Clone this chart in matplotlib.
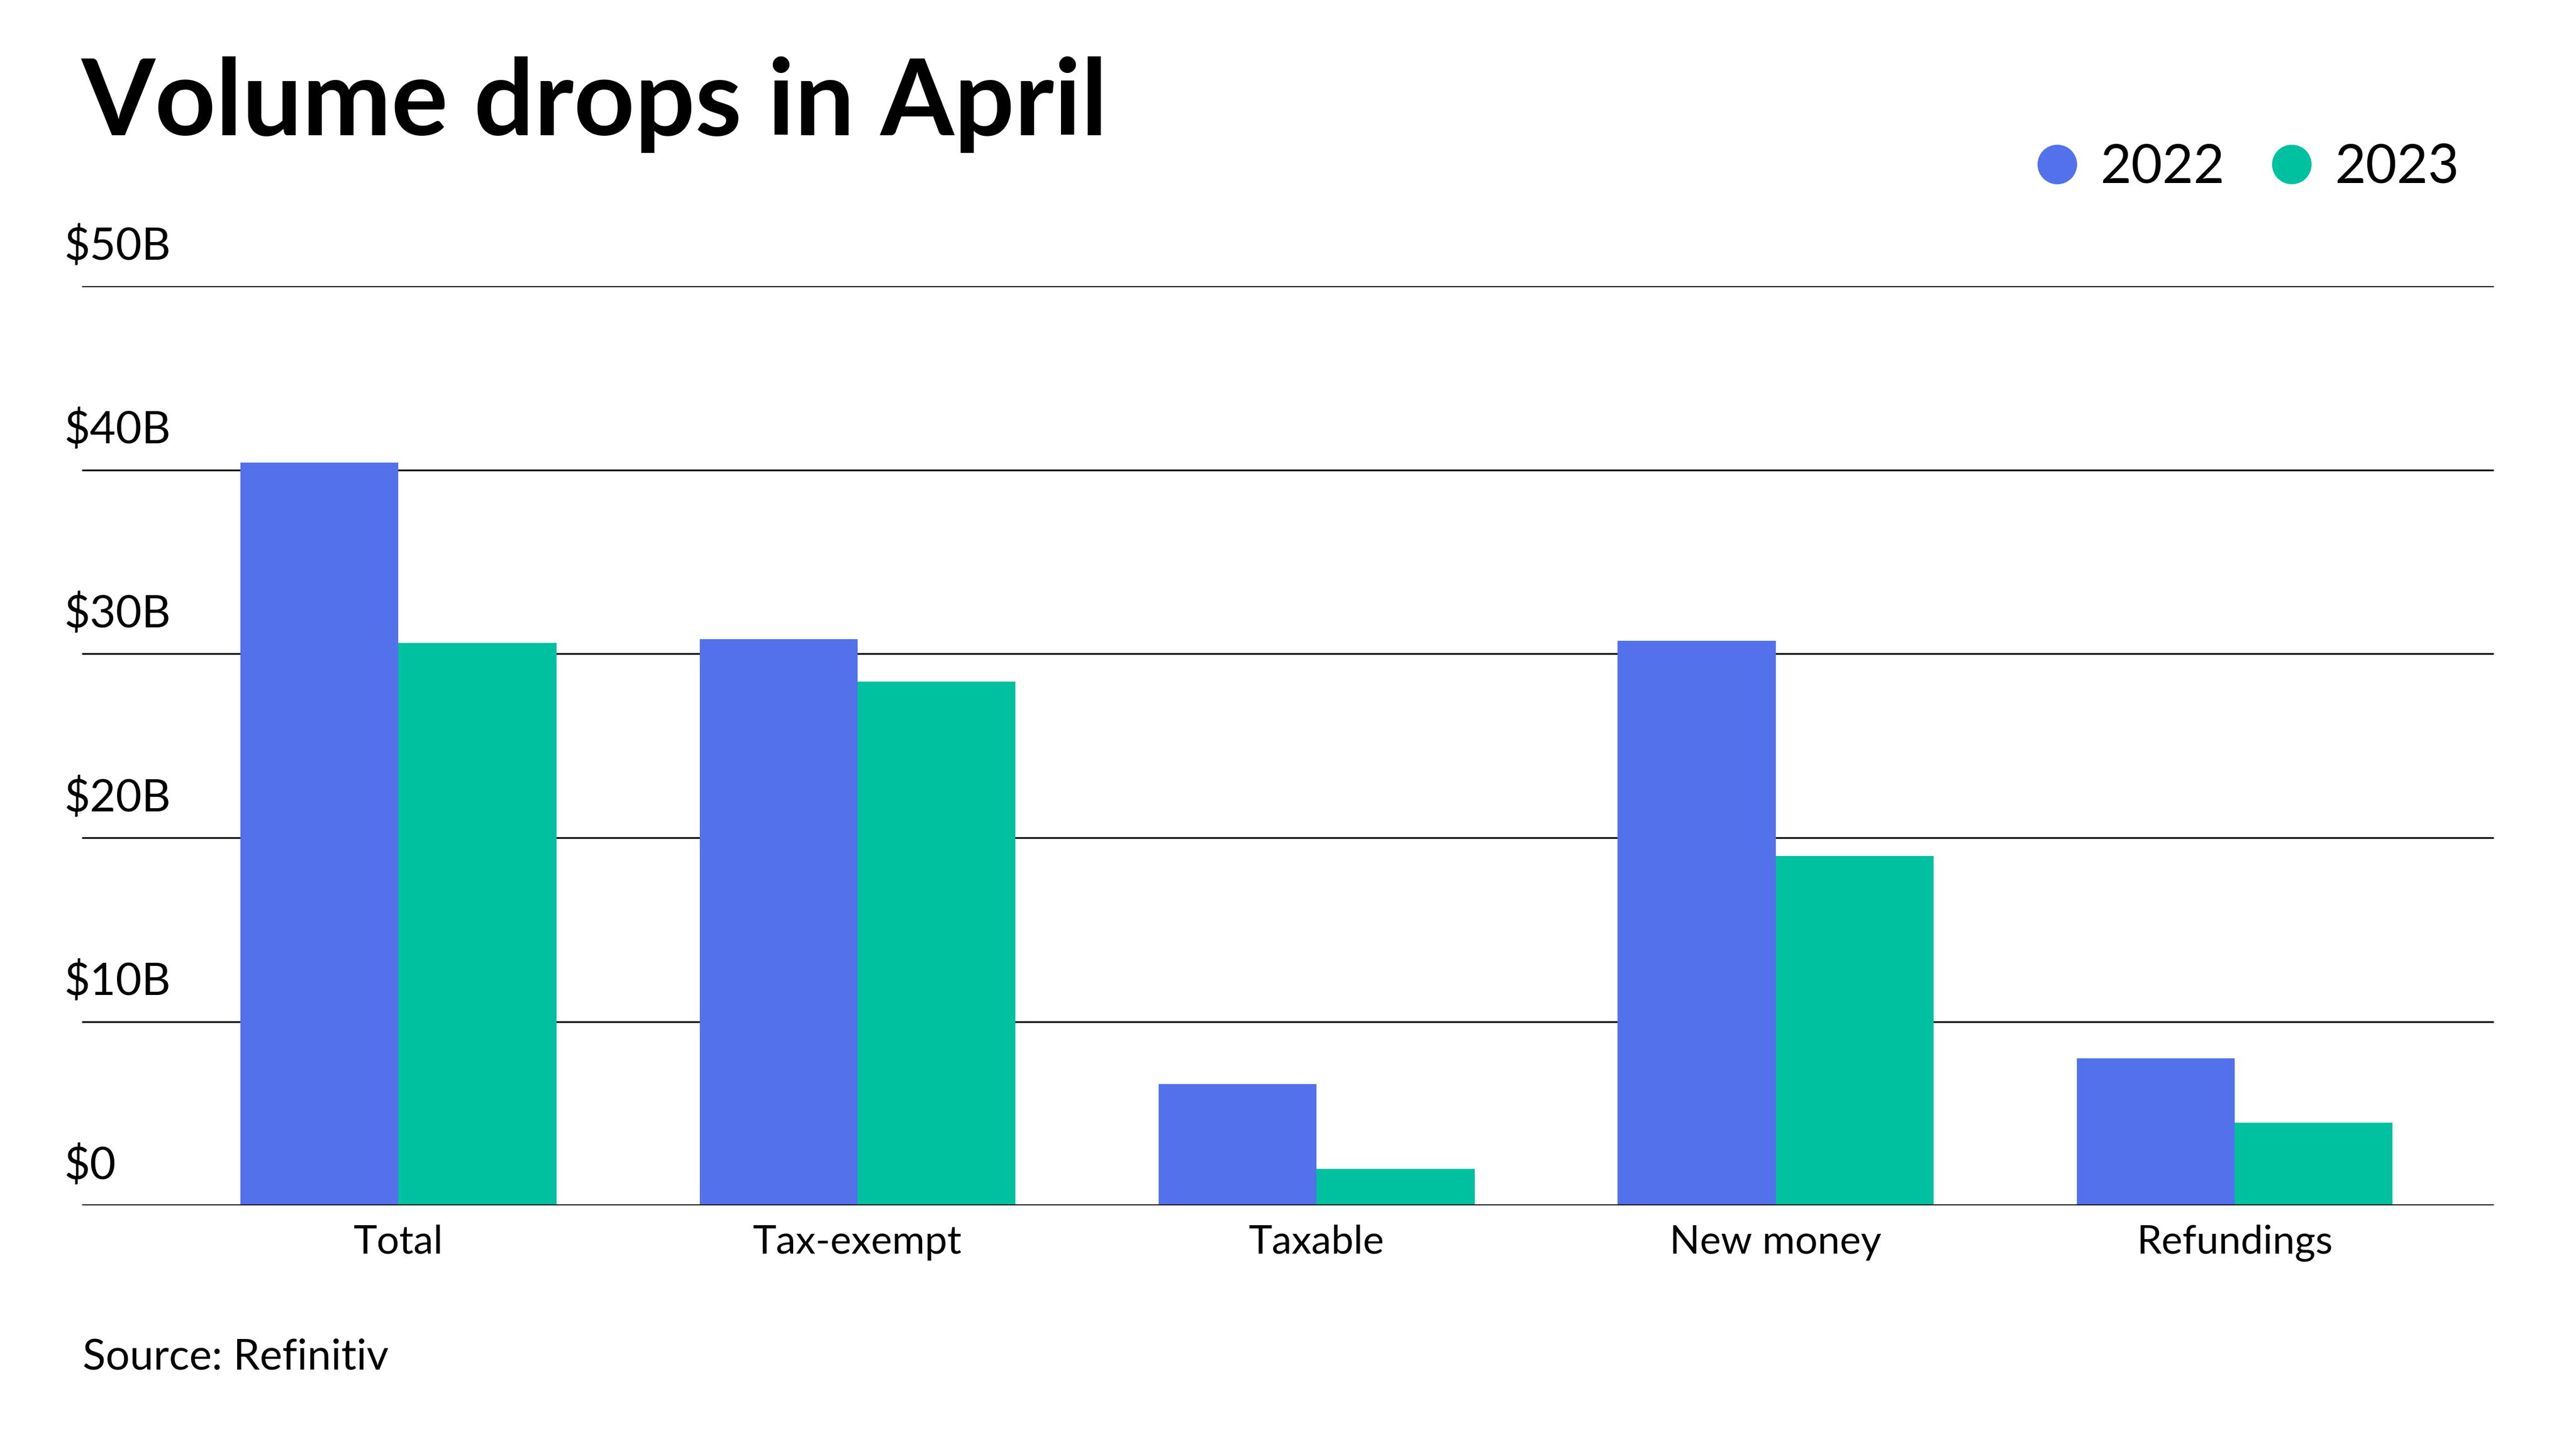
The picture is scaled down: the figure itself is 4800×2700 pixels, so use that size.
import numpy as np
import matplotlib
matplotlib.use("Agg")
from matplotlib import pyplot as plt
from matplotlib.lines import Line2D
from matplotlib import transforms

plt.rcParams['font.family'] = ['Lato', 'DejaVu Sans']

# data (billions of dollars)
categories = ['Total', 'Tax-exempt', 'Taxable', 'New money', 'Refundings']
vol_2022 = [40.4, 30.8, 6.6, 30.7, 8.0]
vol_2023 = [30.6, 28.5, 2.0, 19.0, 4.5]
years = ['2022', '2023']
y_ticks = [0, 10, 20, 30, 40, 50]
y_tick_labels = ['$0', '$10B', '$20B', '$30B', '$40B', '$50B']

blue = '#5271EB'
green = '#00C19F'

fig = plt.figure(figsize=(16, 9), dpi=300)
ax = fig.add_axes([0.0319, 0.1681, 0.9363, 0.6345])

x = np.arange(len(categories))
w = 0.344
ax.bar(x - w / 2, vol_2022, width=w, color=blue, zorder=2)
ax.bar(x + w / 2, vol_2023, width=w, color=green, zorder=2)

ax.set_xlim(-0.689, 4.565)
ax.set_ylim(0, 50)

# gridlines
for v in y_ticks:
    ax.axhline(v, color='#111111', lw=0.95 if v == 0 else 0.8, zorder=3 if v == 0 else 1)

for s in ax.spines.values():
    s.set_visible(False)
ax.set_yticks([])
ax.set_xticks(x)
ax.set_xticklabels(categories, fontsize=17.8)
ax.tick_params(axis='x', length=0, pad=8.6)

# y labels sit above their gridlines, left of the plot
trans = transforms.offset_copy(ax.get_yaxis_transform(), fig=fig, y=11.8, units='points')
for v, lab in zip(y_ticks, y_tick_labels):
    ax.text(-0.0073, v, lab, transform=trans, fontsize=20, ha='left', va='baseline')

fig.text(151 / 4800, 1 - 252 / 2700, 'Volume drops in April', fontsize=47.5,
         fontweight='bold', ha='left', va='baseline')
fig.text(154 / 4800, 1 - 2552 / 2700, 'Source: Refinitiv', fontsize=19,
         ha='left', va='baseline')

# legend
handles = [Line2D([], [], marker='o', ls='', color=blue, markersize=16.7),
           Line2D([], [], marker='o', ls='', color=green, markersize=16.7)]
fig.legend(handles, years, loc='center right', bbox_to_anchor=(0.963, 1 - 312 / 2700),
           ncol=2, frameon=False, fontsize=24, handletextpad=0.3,
           columnspacing=0.75, borderaxespad=0, handlelength=1.0)

fig.savefig('out.png', dpi=300, facecolor='white')
